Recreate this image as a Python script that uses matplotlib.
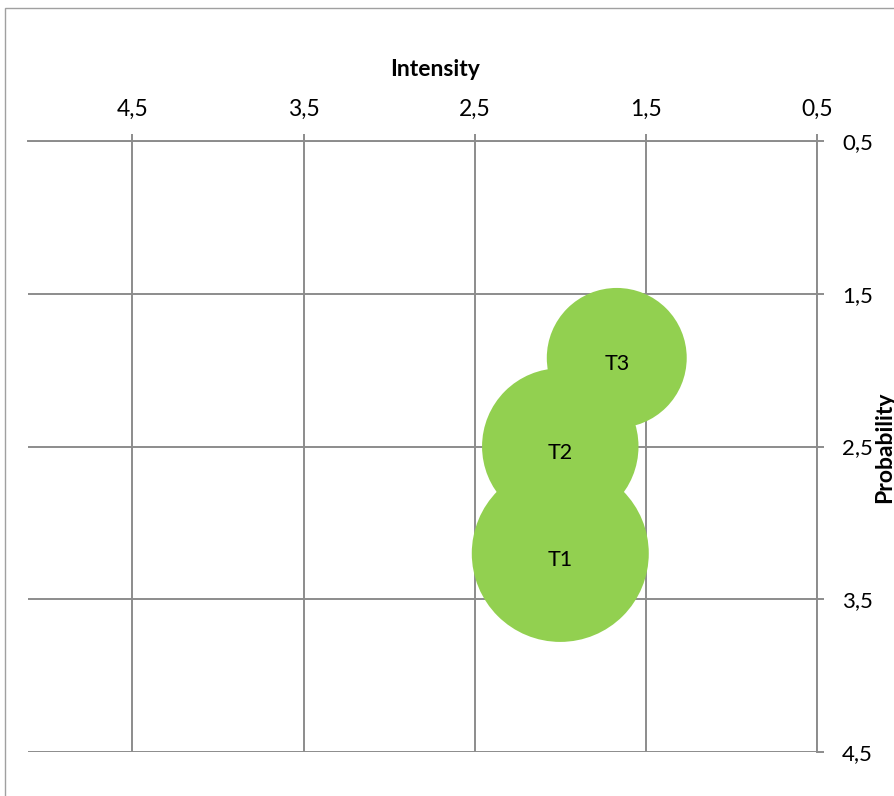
import numpy as np
import matplotlib
matplotlib.use('Agg')
import matplotlib.pyplot as plt
from matplotlib.patches import Rectangle

# data
labels = ["T1", "T2", "T3"]
intensity = [2.0, 2.0, 1.67]
probability = [3.2, 2.5, 1.92]
bubble_size = [6.4, 5.0, 4.0]

ticks = [0.5, 1.5, 2.5, 3.5, 4.5]
tick_labels = ["0,5", "1,5", "2,5", "3,5", "4,5"]

GREEN = "#92D050"
GRID = "#8C8C8C"
FONT = "Lato"

W, H = 894, 796
fig = plt.figure(figsize=(W / 100, H / 100), dpi=100)
fig.patch.set_facecolor("white")

# chart frame (cropped on right/bottom)
fig.patches.append(Rectangle((5 / W, -0.1), 1.2, 1 - 8 / H + 0.1,
                             transform=fig.transFigure, fill=False,
                             edgecolor="#A0A0A0", linewidth=1.0))

ax = fig.add_axes([28 / W, 1 - 752 / H, (817 - 28) / W, (752 - 141) / H])
ax.set_xlim(5.11, 0.5)
ax.set_ylim(4.5, 0.5)

# bubble area proportional to size, largest radius ~88 px
r_max_pt = 88.5 * 72 / 100
s = [(2 * r_max_pt) ** 2 * b / max(bubble_size) for b in bubble_size]
ax.scatter(intensity, probability, s=s, color=GREEN, edgecolors="none",
           zorder=3, clip_on=False)
for lab, x, y in zip(labels, intensity, probability):
    ax.text(x, y + 0.04, lab, ha="center", va="center", fontsize=15.5,
            family=FONT, color="black", zorder=4)

# axes styling
for side in ["left", "bottom"]:
    ax.spines[side].set_visible(False)
ax.spines["top"].set_color(GRID)
ax.spines["right"].set_color(GRID)
ax.spines["top"].set_linewidth(1.4)
ax.spines["right"].set_linewidth(1.4)

ax.xaxis.tick_top()
ax.yaxis.tick_right()
ax.set_xticks(ticks)
ax.set_xticklabels(tick_labels, family=FONT, fontsize=16.5)
ax.set_yticks(ticks)
ax.set_yticklabels(tick_labels, family=FONT, fontsize=16)
ax.tick_params(axis="x", direction="out", length=5, width=1.4, color=GRID, pad=10)
ax.tick_params(axis="y", direction="out", length=5, width=1.4, color=GRID, pad=13)
ax.grid(True, color=GRID, linewidth=1.4, zorder=0)
ax.set_axisbelow(True)

# axis titles
fig.text(435 / W, 1 - 70 / H, "Intensity", family=FONT, fontsize=16.5,
         fontweight="bold", ha="center", va="center")
fig.text(874 / W, 1 - 447 / H, "Probability", family=FONT, fontsize=16.5,
         fontweight="bold", ha="left", va="center", rotation=90)

fig.savefig("out.png", dpi=100)
